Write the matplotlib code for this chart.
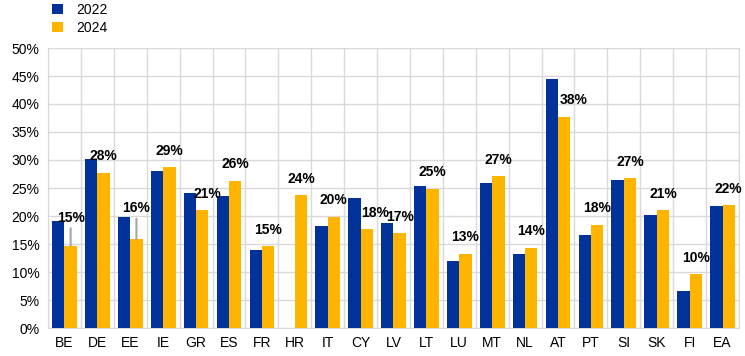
import numpy as np
import matplotlib
matplotlib.use("Agg")
import matplotlib.pyplot as plt

plt.rcParams['font.family'] = ['Liberation Sans', 'DejaVu Sans']

countries = ["BE", "DE", "EE", "IE", "GR", "ES", "FR", "HR", "IT", "CY",
             "LV", "LT", "LU", "MT", "NL", "AT", "PT", "SI", "SK", "FI", "EA"]
v2022 = [19.1, 30.2, 19.8, 28.0, 24.1, 23.5, 13.9, 0.0, 18.2, 23.3,
         18.7, 25.3, 12.0, 25.9, 13.2, 44.5, 16.6, 26.4, 20.1, 6.6, 21.7]
v2024 = [14.7, 27.7, 15.9, 28.7, 21.0, 26.3, 14.6, 23.7, 19.9, 17.6,
         16.9, 24.9, 13.2, 27.1, 14.3, 37.7, 18.4, 26.7, 21.0, 9.6, 21.9]
labels = ["15%", "28%", "16%", "29%", "21%", "26%", "15%", "24%", "20%", "18%",
          "17%", "25%", "13%", "27%", "14%", "38%", "18%", "27%", "21%", "10%", "22%"]

n = len(countries)
blue = "#003299"
yellow = "#FFB400"

fig = plt.figure(figsize=(7.45, 3.56), dpi=100)
ax = fig.add_axes([48 / 745, 28 / 356, 691 / 745, 280 / 356])

x = np.arange(n)
w = 0.375
ax.bar(x - w / 2, v2022, w, color=blue, label="2022", zorder=3)
ax.bar(x + w / 2, v2024, w, color=yellow, label="2024", zorder=3)

# label offsets in points: raised ones get a leader line, some nudged right
raise_ = {"BE": 8, "EE": 10}
nudge = {"AT": 7, "CY": 6, "GR": 4}
for i, (c, v, t) in enumerate(zip(countries, v2024, labels)):
    dy = 12 + raise_.get(c, 0)
    ax.annotate(t, (x[i] + w / 2, v), xytext=(nudge.get(c, 0), dy),
                textcoords="offset points", ha="center", va="center",
                fontsize=10, fontweight="bold", zorder=5)
    if c in raise_:
        ax.annotate("", (x[i] + w / 2, v), xytext=(0, dy - 7.5),
                    textcoords="offset points",
                    arrowprops=dict(arrowstyle="-", color="#a6a6a6", lw=1.5,
                                    shrinkA=0, shrinkB=0), zorder=4)

ax.set_xlim(-0.5, n - 0.5)
ax.set_ylim(0, 50)
ax.set_yticks(np.arange(0, 51, 5))
ax.set_yticklabels([f"{t}%" for t in range(0, 51, 5)])
ax.set_xticks(x)
ax.set_xticklabels(countries)
ax.set_xticks(np.arange(-0.5, n, 1), minor=True)
ax.tick_params(axis="both", which="both", length=0, labelsize=10, pad=6)
ax.grid(axis="y", color="#d9d9d9", lw=1, zorder=0)
ax.grid(axis="x", which="minor", color="#d9d9d9", lw=1, zorder=0)
ax.grid(axis="x", which="major", visible=False)
for s in ax.spines.values():
    s.set_color("#d9d9d9")
ax.spines["top"].set_visible(False)

fig.legend(loc="upper left", bbox_to_anchor=(42 / 745, 1.0 + 7 / 356), frameon=False,
           fontsize=10, handlelength=0.8, handleheight=0.8, labelspacing=0.3,
           handletextpad=1.0, borderpad=0.2)

fig.savefig("out.png", dpi=100)
